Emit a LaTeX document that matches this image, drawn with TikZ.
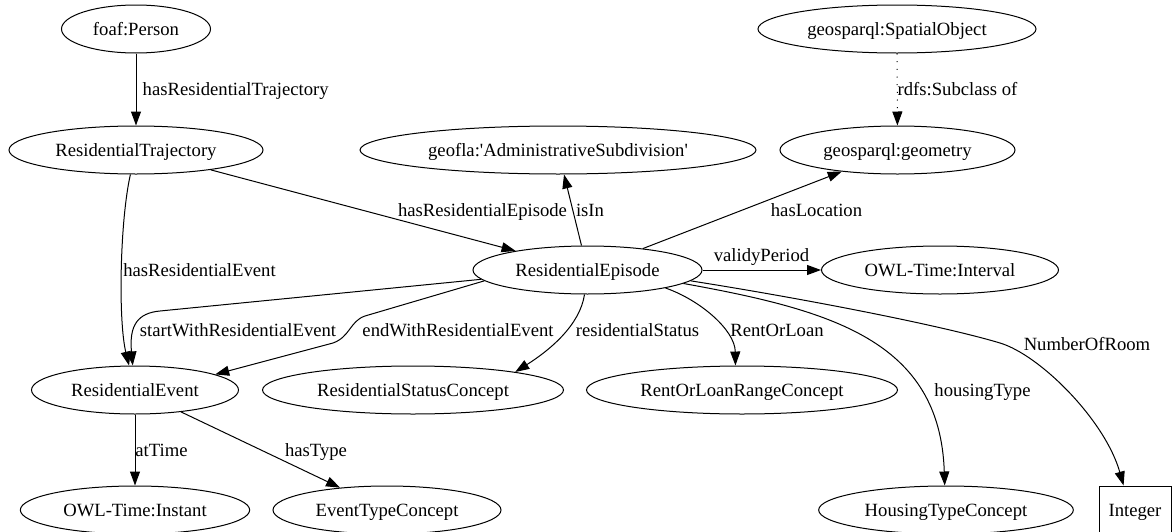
\documentclass[tikz,border=0pt]{standalone}
\usepackage{fontspec}
\newfontfamily\gvfont{Liberation Serif}
\usetikzlibrary{arrows.meta,shapes.geometric}
\begin{document}
\begin{tikzpicture}[x=0.75pt,y=-0.75pt,
  every node/.style={font=\gvfont\fontsize{14pt}{16pt}\selectfont, text height=11pt, text depth=2pt, inner sep=0pt},
  ell/.style={draw, ellipse, minimum height=36pt, line width=0.75pt},
  boxnode/.style={draw, rectangle, minimum width=54pt, minimum height=36pt, line width=0.75pt},
  conn/.style={draw, line width=0.75pt, -{Triangle[length=10.5pt,width=7.5pt]}},
  dots/.style={dash pattern=on 0.75pt off 5pt},
  lbl/.style={}
]
\useasboundingbox (0,0) rectangle (1172,532);

% nodes
\node[ell, minimum width=111.75pt] (person) at (136,29) {foaf:Person};
\node[ell, minimum width=190.5pt] (traj) at (136,150) {ResidentialTrajectory};
\node[ell, minimum width=297pt] (geofla) at (558,150) {geofla:'AdministrativeSubdivision'};
\node[ell, minimum width=208.5pt] (spatial) at (897,29) {geosparql:SpatialObject};
\node[ell, minimum width=176.25pt] (geometry) at (897.5,150) {geosparql:geometry};
\node[ell, minimum width=171.75pt] (episode) at (587.5,270) {ResidentialEpisode};
\node[ell, minimum width=177.75pt] (interval) at (940,270) {OWL-Time:Interval};
\node[ell, minimum width=155.25pt] (event) at (135,390) {ResidentialEvent};
\node[ell, minimum width=225.75pt] (status) at (413,390) {ResidentialStatusConcept};
\node[ell, minimum width=233.25pt] (rentloan) at (742,390) {RentOrLoanRangeConcept};
\node[ell, minimum width=172pt] (instant) at (135,510) {OWL-Time:Instant};
\node[ell, minimum width=171pt] (eventtype) at (387,510) {EventTypeConcept};
\node[ell, minimum width=191pt] (housing) at (946,510) {HousingTypeConcept};
\node[boxnode] (integer) at (1135,510) {Integer};

% edges
\draw[conn] (person) -- (traj);
\draw[conn, dots] (spatial) -- (geometry);
\draw[conn] (traj) -- (episode);
\draw[conn] (episode) -- (geofla);
\draw[conn] (episode) -- (geometry);
\draw[conn] (episode) -- (interval);
\draw[conn] (traj) .. controls (120,220) and (118,320) .. (event);
\draw[conn] (episode.185) -- (160,311) .. controls (138,313) and (129,325) .. (event);
\draw[conn] (episode.186) -- (365,316) .. controls (350,321) and (350,337) .. (333,343) -- (event.11);
\draw[conn] (episode.263) .. controls (580,325) and (550,350) .. (status.10);
\draw[conn] (episode.347) .. controls (700,300) and (735,330) .. (rentloan.105);
\draw[conn] (episode.352) .. controls (830,310) and (940,340) .. (housing.93);
\draw[conn] (episode.354) .. controls (800,298) and (940,325) .. (1000,343) .. controls (1040,355) and (1105,420) .. (integer.115);
\draw[conn] (event) -- (instant);
\draw[conn] (event) -- (eventtype);

% labels
\node[lbl] (l1) at (235.7,89) {hasResidentialTrajectory};
\node[lbl] (l2) at (957.5,89) {rdfs:Subclass of};
\node[lbl] (l3) at (482.5,210) {hasResidentialEpisode};
\node[lbl] (l4) at (590,210) {isIn};
\node[lbl] (l5) at (816.5,210) {hasLocation};
\node[lbl] (l6) at (199.5,270) {hasResidentialEvent};
\node[lbl] (l7) at (761.5,255) {validyPeriod};
\node[lbl] (l8) at (238,330) {startWithResidentialEvent};
\node[lbl] (l9) at (458,330) {endWithResidentialEvent};
\node[lbl] (l10) at (637.5,330) {residentialStatus};
\node[lbl] (l11) at (777,330) {RentOrLoan};
\node[lbl] (l12) at (1087,344) {NumberOfRoom};
\node[lbl] (l13) at (982.5,390) {housingType};
\node[lbl] (l14) at (161.5,450) {atTime};
\node[lbl] (l15) at (316,450) {hasType};
\end{tikzpicture}
\end{document}
